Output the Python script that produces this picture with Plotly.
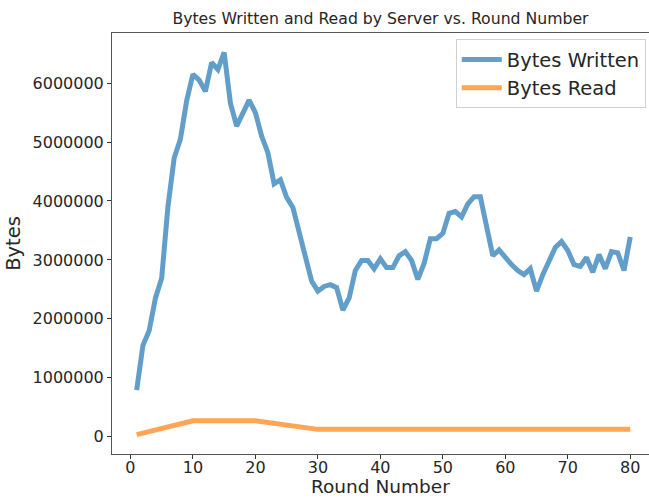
import plotly.graph_objects as go

# Server traffic per round
rounds_written = list(range(1, 81))
bytes_written = [
    790000, 1550000, 1800000, 2350000, 2690000, 3900000, 4730000, 5050000, 5700000, 6150000,
    6050000, 5860000, 6350000, 6230000, 6520000, 5660000, 5270000, 5500000, 5710000, 5500000,
    5100000, 4820000, 4290000, 4360000, 4060000, 3890000, 3450000, 3020000, 2640000, 2470000,
    2550000, 2580000, 2530000, 2150000, 2350000, 2820000, 2990000, 2990000, 2850000, 3020000,
    2870000, 2870000, 3070000, 3140000, 2990000, 2670000, 2940000, 3360000, 3360000, 3450000,
    3790000, 3820000, 3730000, 3950000, 4070000, 4070000, 3600000, 3070000, 3170000, 3040000,
    2920000, 2820000, 2750000, 2850000, 2470000, 2750000, 2990000, 3210000, 3310000, 3160000,
    2920000, 2890000, 3040000, 2790000, 3090000, 2850000, 3140000, 3120000, 2820000, 3390000,
]

rounds_read = [1, 10, 20, 30, 40, 50, 60, 70, 80]
bytes_read = [35000, 270000, 270000, 125000, 125000, 125000, 125000, 125000, 125000]

y_ticks = [0, 1000000, 2000000, 3000000, 4000000, 5000000, 6000000]
y_tick_text = [str(v) for v in y_ticks]
x_ticks = [0, 10, 20, 30, 40, 50, 60, 70, 80]

font_family = "DejaVu Sans"
text_color = "#262626"

fig = go.Figure()
fig.add_trace(go.Scatter(
    x=rounds_written, y=bytes_written, mode="lines", name="Bytes Written",
    line=dict(color="#1f77b4", width=5), opacity=0.7,
))
fig.add_trace(go.Scatter(
    x=rounds_read, y=bytes_read, mode="lines", name="Bytes Read",
    line=dict(color="#ff7f0e", width=5), opacity=0.7,
))

fig.update_layout(
    width=649, height=498,
    margin=dict(l=112, r=0, t=33, b=44),
    paper_bgcolor="white", plot_bgcolor="white",
    font=dict(family=font_family, color=text_color),
    title=dict(
        text="Bytes Written and Read by Server vs. Round Number",
        font=dict(size=15.7, color=text_color),
        x=0.5, xref="paper", xanchor="center",
        y=1 - 19 / 498, yref="container", yanchor="middle",
    ),
    showlegend=True,
    legend=dict(
        x=0.994, xanchor="right", y=0.985, yanchor="top",
        bgcolor="rgba(255,255,255,0.8)", bordercolor="#d0d0d0", borderwidth=1,
        font=dict(size=19.5, color=text_color),
        itemwidth=40,
    ),
    # x-axis label sitting on the bottom edge, under the tick labels
    annotations=[dict(
        text="Round Number", xref="paper", yref="paper", x=0.5, y=0,
        xanchor="center", yanchor="bottom", yshift=-44, showarrow=False,
        font=dict(size=18.5, color=text_color), borderpad=0,
    )],
)

fig.update_xaxes(
    range=[-2.95, 83.0], tickvals=x_ticks, ticks="outside", ticklen=4,
    tickcolor="#333", tickfont=dict(size=16), ticklabelstandoff=-5,
    showline=True, linecolor="#555", linewidth=1, mirror=True,
    showgrid=False, zeroline=False,
)
fig.update_yaxes(
    range=[-293000, 6850000], tickvals=y_ticks, ticktext=y_tick_text,
    ticks="outside", ticklen=4, tickcolor="#333", tickfont=dict(size=16),
    showline=True, linecolor="#555", linewidth=1,
    showgrid=False, zeroline=False,
    title=dict(text="Bytes", font=dict(size=19.5), standoff=6),
)

fig.write_html("out.html")
